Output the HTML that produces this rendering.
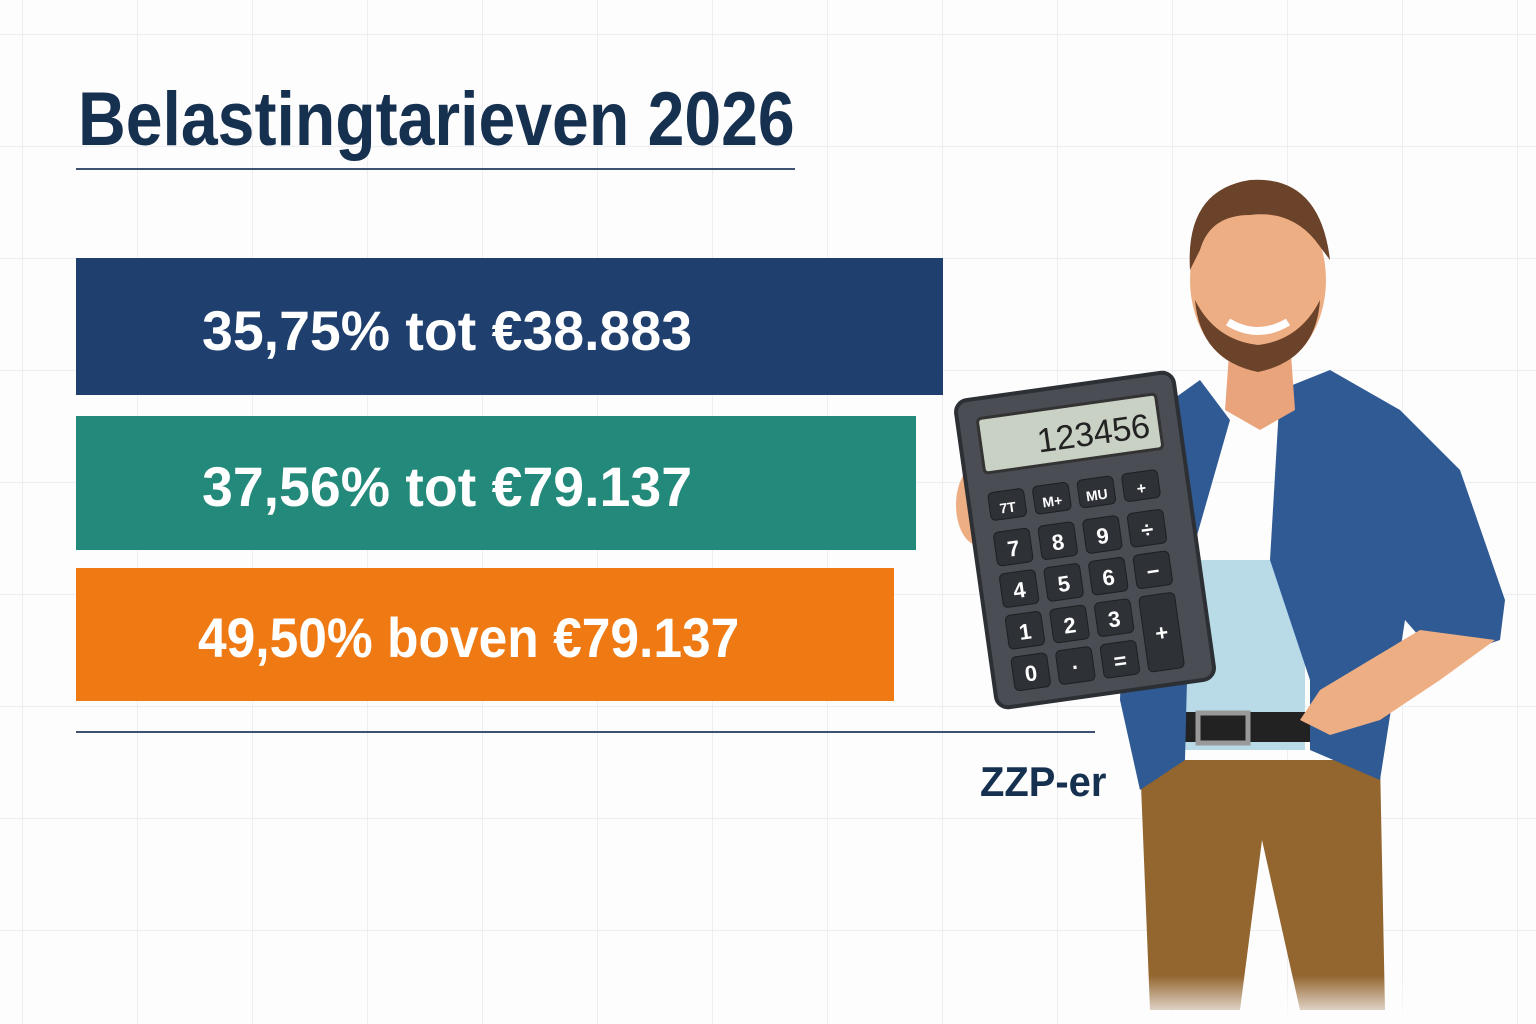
<!DOCTYPE html>
<html><head><meta charset="utf-8"><style>
html,body{margin:0;padding:0}
body{width:1536px;height:1024px;position:relative;overflow:hidden;font-family:"Liberation Sans",sans-serif;
background-color:#fdfdfe;
background-image:linear-gradient(#eceef2 1px,transparent 1px),linear-gradient(90deg,#eceef2 1px,transparent 1px);
background-size:115px 112px;background-position:22px 34px;}
.t{position:absolute;white-space:nowrap;font-weight:bold;transform-origin:0 0;}
.bar{position:absolute;left:76px}
</style></head><body>
<div class="t" style="left:78px;top:76px;font-size:76px;color:#16304f;transform:scaleX(0.87)">Belastingtarieven 2026</div>
<div style="position:absolute;left:76px;top:168px;width:719px;height:2px;background:#3d5170"></div>
<div class="bar" style="top:258px;width:867px;height:137px;background:#1f406f"></div>
<div class="bar" style="top:416px;width:840px;height:134px;background:#23897a"></div>
<div class="bar" style="top:568px;width:818px;height:133px;background:#ef7a14"></div>
<div class="t" style="left:202px;top:298px;font-size:56px;color:#fff;transform:scaleX(0.99)">35,75% tot €38.883</div>
<div class="t" style="left:202px;top:454px;font-size:56px;color:#fff;transform:scaleX(0.99)">37,56% tot €79.137</div>
<div class="t" style="left:198px;top:605px;font-size:56px;color:#fff;transform:scaleX(0.92)">49,50% boven €79.137</div>
<div style="position:absolute;left:76px;top:731px;width:1019px;height:2px;background:#3d5170"></div>
<div class="t" style="left:980px;top:758px;font-size:42px;color:#16304f;transform:scaleX(0.95)">ZZP-er</div>
<svg style="position:absolute;left:0;top:0" width="1536" height="1024">
<defs><linearGradient id="f" x1="0" y1="0" x2="0" y2="1"><stop offset="0.8" stop-color="#fdfdfe" stop-opacity="0"/><stop offset="1" stop-color="#fdfdfe"/></linearGradient></defs>
<path d="M1140 760 L1380 760 L1385 1010 L1300 1010 L1262 840 L1240 1010 L1150 1010 Z" fill="#93652f"/>
<rect x="1175" y="560" width="130" height="190" fill="#b9dbe8"/>
<rect x="1180" y="712" width="130" height="30" fill="#222"/>
<rect x="1198" y="713" width="50" height="30" fill="none" stroke="#999" stroke-width="5"/>
<path d="M1130 430 L1200 380 L1230 420 L1190 560 L1185 760 L1140 790 L1120 700 Z" fill="#2f5a93"/>
<path d="M1280 390 L1330 370 L1400 410 L1460 470 L1505 600 L1500 640 L1440 660 L1405 620 L1380 780 L1310 750 L1310 680 L1270 560 Z" fill="#2f5a93"/>
<path d="M1420 630 L1370 660 L1320 690 L1300 720 L1330 735 L1380 720 L1440 680 L1495 640 Z" fill="#eeae83"/>
<path d="M1230 340 L1290 340 L1295 410 L1260 430 L1225 410 Z" fill="#e9a47c"/>
<ellipse cx="1258" cy="280" rx="68" ry="90" fill="#eeae83"/>
<path d="M1195 300 Q1200 360 1258 372 Q1316 360 1320 300 Q1300 340 1258 345 Q1215 340 1195 300Z" fill="#6b432a"/>
<path d="M1190 270 Q1185 190 1250 180 Q1320 175 1330 260 L1315 240 Q1290 210 1250 215 Q1210 215 1200 250 Z" fill="#6b432a"/>
<path d="M1228 322 Q1258 340 1288 322" stroke="#fff" stroke-width="8" fill="none"/>
<ellipse cx="978" cy="505" rx="22" ry="40" fill="#eeae83"/>
<g transform="rotate(-8 1085 540)">
<rect x="975" y="385" width="220" height="310" rx="12" fill="#4a4e54" stroke="#2c2f33" stroke-width="4"/>
<rect x="995" y="405" width="180" height="55" rx="4" fill="#c9d1c5" stroke="#333" stroke-width="3"/>
<text x="1165" y="447" font-family="Liberation Sans" font-size="34" text-anchor="end" fill="#222">123456</text>
<g fill="#2e3136" stroke="#1e1f22">
<rect x="995" y="480" width="36" height="28" rx="5"/><rect x="1040" y="480" width="36" height="28" rx="5"/><rect x="1085" y="480" width="36" height="28" rx="5"/><rect x="1130" y="480" width="36" height="28" rx="5"/>
<rect x="995" y="520" width="36" height="34" rx="5"/><rect x="1040" y="520" width="36" height="34" rx="5"/><rect x="1085" y="520" width="36" height="34" rx="5"/><rect x="1130" y="520" width="36" height="34" rx="5"/>
<rect x="995" y="562" width="36" height="34" rx="5"/><rect x="1040" y="562" width="36" height="34" rx="5"/><rect x="1085" y="562" width="36" height="34" rx="5"/><rect x="1130" y="562" width="36" height="34" rx="5"/>
<rect x="995" y="604" width="36" height="34" rx="5"/><rect x="1040" y="604" width="36" height="34" rx="5"/><rect x="1085" y="604" width="36" height="34" rx="5"/><rect x="1130" y="604" width="36" height="76" rx="5"/>
<rect x="995" y="646" width="36" height="34" rx="5"/><rect x="1040" y="646" width="36" height="34" rx="5"/><rect x="1085" y="646" width="36" height="34" rx="5"/>
</g>
<g fill="#fff" font-family="Liberation Sans" font-weight="bold" font-size="22" text-anchor="middle">
<text x="1013" y="546">7</text><text x="1058" y="546">8</text><text x="1103" y="546">9</text><text x="1148" y="546">÷</text>
<text x="1013" y="588">4</text><text x="1058" y="588">5</text><text x="1103" y="588">6</text><text x="1148" y="588">−</text>
<text x="1013" y="630">1</text><text x="1058" y="630">2</text><text x="1103" y="630">3</text><text x="1148" y="650">+</text>
<text x="1013" y="672">0</text><text x="1058" y="672">·</text><text x="1103" y="672">=</text>
<text x="1148" y="502" font-size="16">+</text><text x="1013" y="502" font-size="14">7T</text><text x="1058" y="502" font-size="14">M+</text><text x="1103" y="502" font-size="14">MU</text>
</g></g>
<rect x="1100" y="780" width="320" height="244" fill="url(#f)"/>
</svg>
</body></html>
